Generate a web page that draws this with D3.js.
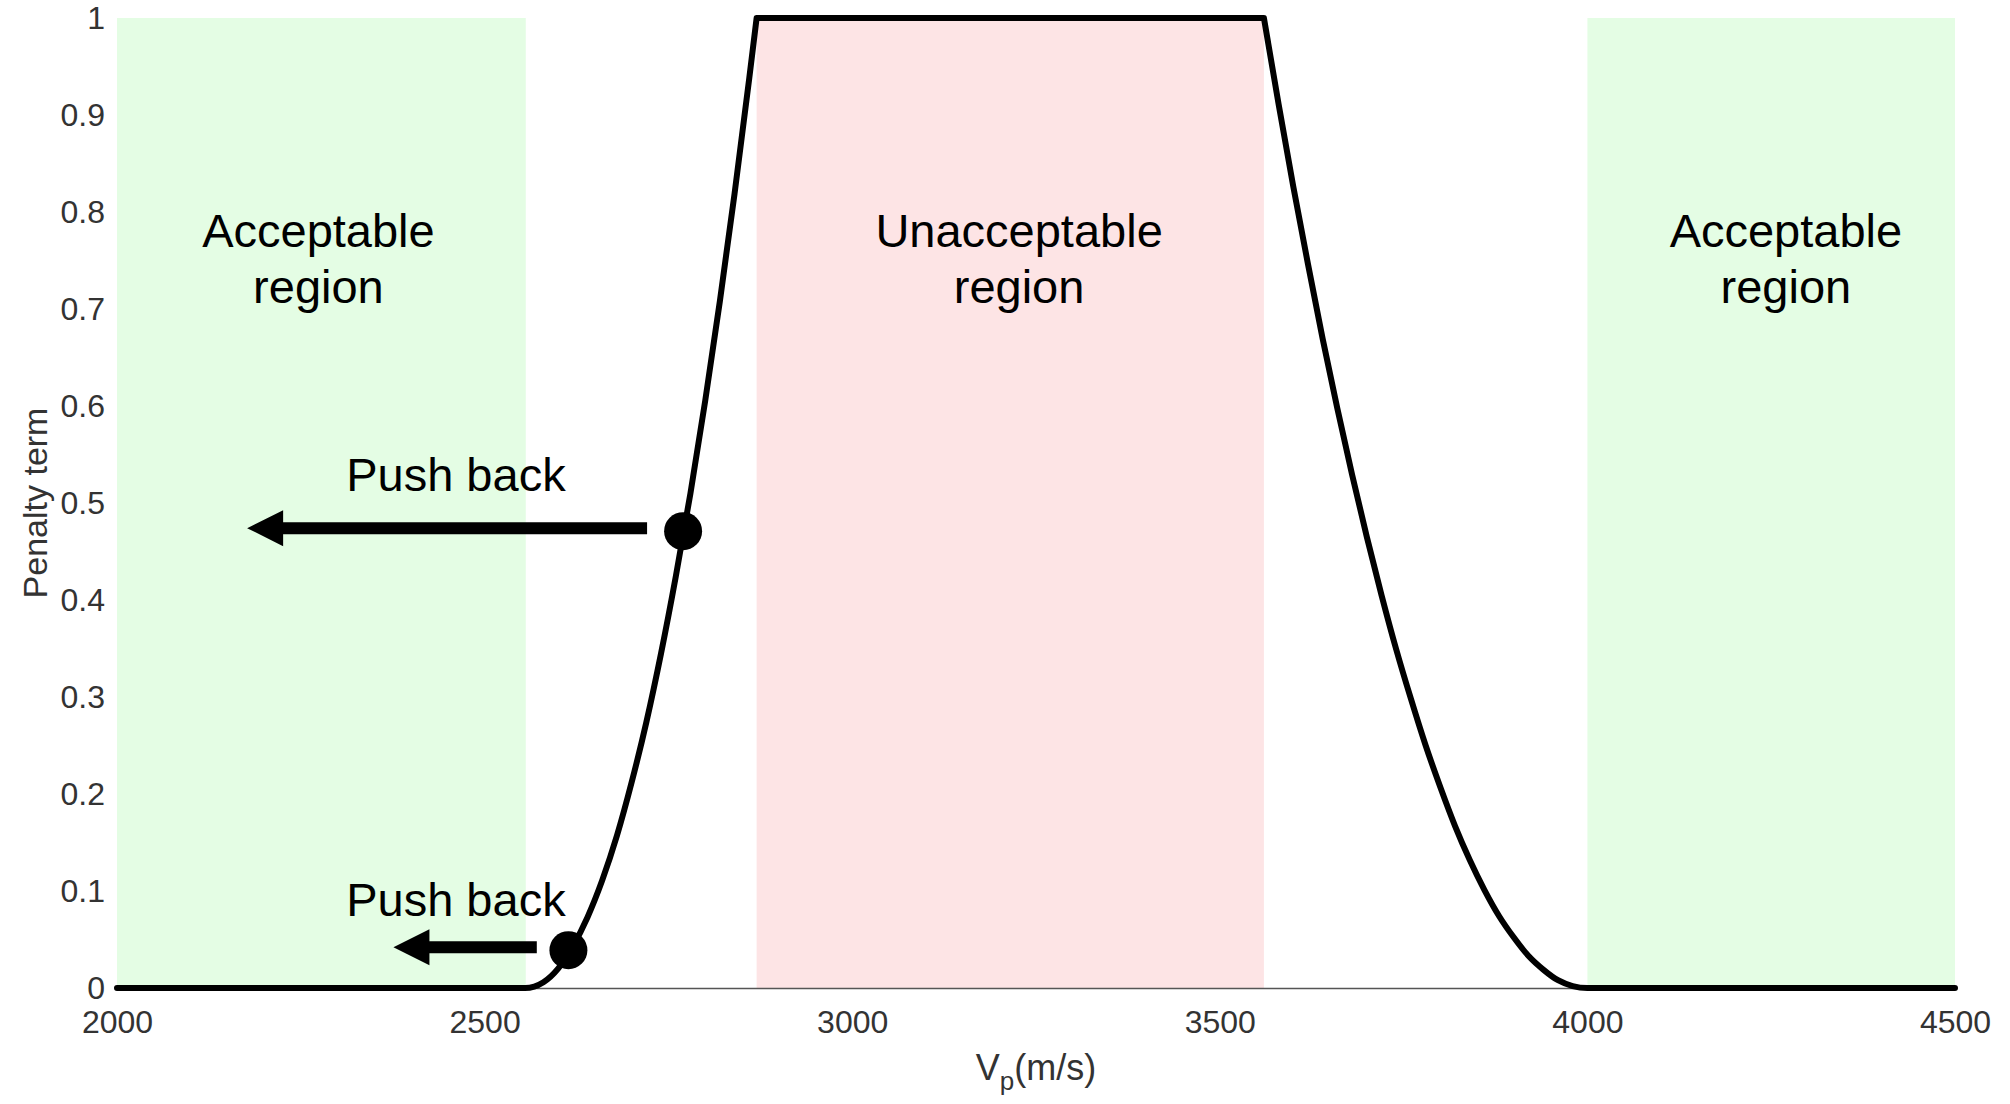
<!DOCTYPE html>
<html>
<head>
<meta charset="utf-8">
<script src="https://cdn.jsdelivr.net/npm/d3@7"></script>
<style>
  body { margin: 0; background: #fff; }
  svg { display: block; }
  text { font-family: "Liberation Sans", Arial, Helvetica, sans-serif; }
</style>
</head>
<body>
<svg id="chart" width="2010" height="1104"></svg>
<script>
// Penalty term against P-wave velocity: flat, rising flank, plateau, falling flank, flat
const riseV = [2000, 2555, 2580, 2600, 2620, 2640, 2660, 2680, 2700, 2720, 2740, 2760, 2780, 2800, 2820, 2840, 2860, 2870];
const riseP = [0, 0, 0.006, 0.020, 0.043, 0.073, 0.111, 0.157, 0.212, 0.274, 0.345, 0.424, 0.510, 0.605, 0.708, 0.819, 0.938, 1];
const plateauV = [2870, 3560];
const plateauP = [1, 1];
const fallV = [3560, 3580, 3600, 3620, 3640, 3660, 3680, 3700, 3720, 3740, 3760, 3780, 3800, 3820, 3840, 3860, 3880, 3900, 3920, 3940, 3960, 3980, 4000, 4500];
const fallP = [1, 0.911, 0.826, 0.746, 0.669, 0.597, 0.529, 0.465, 0.405, 0.349, 0.298, 0.250, 0.207, 0.167, 0.132, 0.101, 0.074, 0.052, 0.033, 0.019, 0.008, 0.002, 0, 0];

// Shaded velocity bands
const regionStart = [2000, 2870, 4000];
const regionEnd = [2556, 3560, 4500];
const regionOk = [true, false, true];
const regionTitle = ["Acceptable", "Unacceptable", "Acceptable"];
const regionLabelV = [2274, 3227, 4270];

// "Push back" markers: point on the curve, arrow tail and tip, label
const pushDotV = [2770, 2614];
const pushDotP = [0.471, 0.039];
const pushTailV = [2721, 2571];
const pushTipV = [2177, 2376];
const pushLabelV = [2461, 2461];
const pushLabelP = [0.512, 0.074];

const xTicks = [2000, 2500, 3000, 3500, 4000, 4500];
const yTicks = [0, 0.1, 0.2, 0.3, 0.4, 0.5, 0.6, 0.7, 0.8, 0.9, 1];

const W = 2010, H = 1104;
const margin = { left: 117, right: 55, top: 18, bottom: 116 };

const svg = d3.select("#chart");
const x = d3.scaleLinear().domain([2000, 4500]).range([margin.left, W - margin.right]);
const y = d3.scaleLinear().domain([0, 1]).range([H - margin.bottom, margin.top]);

const greenFill = "#e4fde4";
const pinkFill = "#fde4e5";

// Background bands
svg.append("g").selectAll("rect")
  .data(regionStart.map((s, i) => ({ s, e: regionEnd[i], ok: regionOk[i] })))
  .join("rect")
  .attr("x", d => x(d.s))
  .attr("width", d => x(d.e) - x(d.s))
  .attr("y", y(1))
  .attr("height", y(0) - y(1))
  .attr("fill", d => d.ok ? greenFill : pinkFill);

// Axes
const xAxis = svg.append("g")
  .attr("transform", `translate(0,${y(0)})`)
  .call(d3.axisBottom(x).tickValues(xTicks).tickSize(0).tickPadding(22).tickFormat(d3.format("d")));
xAxis.select(".domain").attr("stroke", "#555").attr("stroke-width", 1.6);
xAxis.selectAll("text").attr("font-size", 32).attr("fill", "#333");

const yAxis = svg.append("g")
  .attr("transform", `translate(${x(2000)},0)`)
  .call(d3.axisLeft(y).tickValues(yTicks).tickSize(0).tickPadding(12)
    .tickFormat(d => (d === 0 || d === 1) ? String(d) : d3.format(".1f")(d)));
yAxis.select(".domain").remove();
yAxis.selectAll("text").attr("font-size", 32).attr("fill", "#333");

// Axis titles
const xTitle = svg.append("text")
  .attr("x", (x(2000) + x(4500)) / 2)
  .attr("y", 1080)
  .attr("text-anchor", "middle")
  .attr("font-size", 36)
  .attr("fill", "#333");
xTitle.append("tspan").text("V");
xTitle.append("tspan").attr("font-size", 26).attr("dy", 10).text("p");
xTitle.append("tspan").attr("dy", -10).text("(m/s)");

svg.append("text")
  .attr("transform", `translate(47,${(y(0) + y(1)) / 2}) rotate(-90)`)
  .attr("text-anchor", "middle")
  .attr("font-size", 34)
  .attr("fill", "#333")
  .text("Penalty term");

// Penalty curve
const line = d3.line().x(d => x(d[0])).y(d => y(d[1])).curve(d3.curveMonotoneX);
const pieces = [
  riseV.map((v, i) => [v, riseP[i]]),
  plateauV.map((v, i) => [v, plateauP[i]]),
  fallV.map((v, i) => [v, fallP[i]])
];
svg.append("path")
  .attr("d", pieces.map(p => line(p)).join(""))
  .attr("fill", "none")
  .attr("stroke", "#000")
  .attr("stroke-width", 6)
  .attr("stroke-linejoin", "round")
  .attr("stroke-linecap", "round");

// Region labels
regionTitle.forEach((t, i) => {
  const txt = svg.append("text")
    .attr("x", x(regionLabelV[i]))
    .attr("y", 247)
    .attr("text-anchor", "middle")
    .attr("font-size", 47)
    .attr("fill", "#000");
  txt.append("tspan").attr("x", x(regionLabelV[i])).text(t);
  txt.append("tspan").attr("x", x(regionLabelV[i])).attr("dy", 56).text("region");
});

// Push-back arrows, dots and labels
const shaft = 12, headLen = 36, headHalf = 18;
pushDotV.forEach((v, i) => {
  const py = y(pushDotP[i]);
  const tail = x(pushTailV[i]);
  const tip = x(pushTipV[i]);
  const ay = py - 3;
  svg.append("path")
    .attr("d", `M${tail},${ay - shaft / 2} L${tip + headLen},${ay - shaft / 2} L${tip + headLen},${ay - headHalf} ` +
               `L${tip},${ay} L${tip + headLen},${ay + headHalf} L${tip + headLen},${ay + shaft / 2} L${tail},${ay + shaft / 2} Z`)
    .attr("fill", "#000");
  svg.append("circle")
    .attr("cx", x(v))
    .attr("cy", py)
    .attr("r", 19)
    .attr("fill", "#000");
  svg.append("text")
    .attr("x", x(pushLabelV[i]))
    .attr("y", y(pushLabelP[i]))
    .attr("text-anchor", "middle")
    .attr("font-size", 47)
    .attr("fill", "#000")
    .text("Push back");
});
</script>
</body>
</html>
